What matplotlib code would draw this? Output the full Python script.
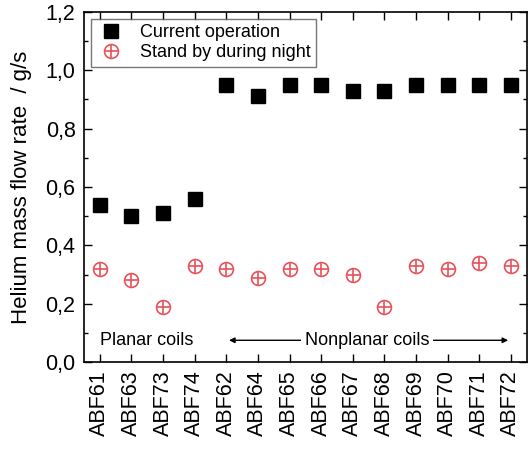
import matplotlib
matplotlib.use("Agg")
import matplotlib.pyplot as plt
from matplotlib.ticker import FuncFormatter, MultipleLocator
from matplotlib.legend_handler import HandlerTuple

plt.rcParams['font.family'] = ['Liberation Sans', 'DejaVu Sans']

coils = ["ABF61", "ABF63", "ABF73", "ABF74", "ABF62", "ABF64", "ABF65",
         "ABF66", "ABF67", "ABF68", "ABF69", "ABF70", "ABF71", "ABF72"]
current_op = [0.54, 0.50, 0.51, 0.56, 0.95, 0.91, 0.95, 0.95, 0.93, 0.93,
              0.95, 0.95, 0.95, 0.95]
standby = [0.32, 0.28, 0.19, 0.33, 0.32, 0.29, 0.32, 0.32, 0.30, 0.19,
           0.33, 0.32, 0.34, 0.33]

red = '#e8525a'

fig = plt.figure(figsize=(5.31, 4.55), dpi=100)
ax = fig.add_axes([0.158, 0.204, 0.834, 0.770])

x = list(range(len(coils)))
h1, = ax.plot(x, current_op, linestyle='none', marker='s', markersize=10,
              color='black')
h2a, = ax.plot(x, standby, linestyle='none', marker='o', markersize=10,
               markerfacecolor='none', markeredgecolor=red, markeredgewidth=1.2)
h2b, = ax.plot(x, standby, linestyle='none', marker='+', markersize=10,
               markeredgecolor=red, markeredgewidth=1.2)

ax.set_xlim(-0.5, 13.5)
ax.set_ylim(0, 1.2)
ax.set_xticks(x)
ax.set_xticklabels(coils, rotation=90, fontsize=15.5)
ax.yaxis.set_major_locator(MultipleLocator(0.2))
ax.yaxis.set_minor_locator(MultipleLocator(0.1))
ax.yaxis.set_major_formatter(FuncFormatter(lambda v, p: f"{v:.1f}".replace('.', ',')))
ax.tick_params(axis='y', labelsize=15.5, pad=6)
ax.tick_params(axis='x', pad=6)
ax.tick_params(which='both', direction='in', top=True, right=True)
ax.tick_params(which='major', length=6, width=1)
ax.tick_params(which='minor', length=3, width=1)
ax.set_ylabel('Helium mass flow rate  / g/s', fontsize=16, labelpad=10)

for s in ax.spines.values():
    s.set_linewidth(1.2)

ty = 0.075
tx = 8.45
ax.text(1.5, ty, 'Planar coils', ha='center', va='center', fontsize=13)
ax.annotate('', xy=(4.0, ty), xytext=(tx, ty),
            arrowprops=dict(arrowstyle='-|>', color='black', lw=1, mutation_scale=8))
ax.annotate('', xy=(13.0, ty), xytext=(tx, ty),
            arrowprops=dict(arrowstyle='-|>', color='black', lw=1, mutation_scale=8))
ax.text(tx, ty, 'Nonplanar coils', ha='center', va='center', fontsize=13,
        bbox=dict(facecolor='white', edgecolor='none', pad=3))

leg = ax.legend([h1, (h2a, h2b)], ['Current operation', 'Stand by during night'],
                handler_map={tuple: HandlerTuple(ndivide=1, pad=0)},
                loc='upper left', fontsize=13, frameon=True, fancybox=False,
                edgecolor='#555555', borderaxespad=0.4, handletextpad=0.8,
                labelspacing=0.15, borderpad=0.3, handlelength=1.6)
leg.get_frame().set_linewidth(1)

fig.savefig('out.png', dpi=100)
